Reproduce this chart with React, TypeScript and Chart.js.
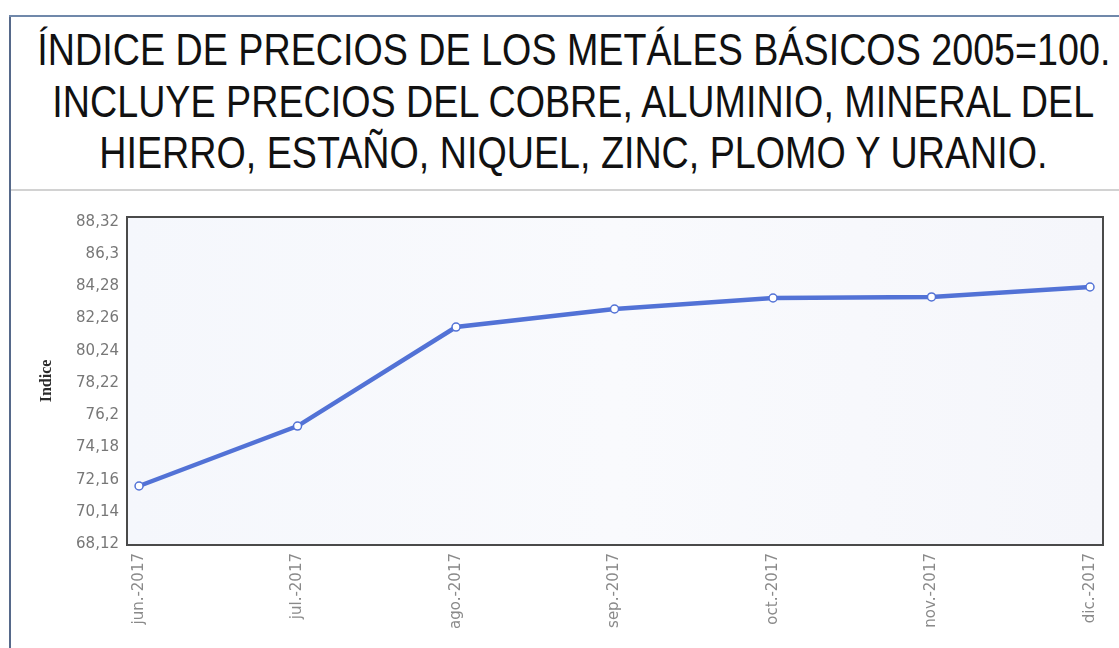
import React, { useEffect, useLayoutEffect, useRef } from 'react';
import { Chart, registerables } from 'chart.js';

Chart.register(...registerables);

const titleLines = [
  'ÍNDICE DE PRECIOS DE LOS METÁLES BÁSICOS 2005=100.',
  'INCLUYE PRECIOS DEL COBRE, ALUMINIO, MINERAL DEL',
  'HIERRO, ESTAÑO, NIQUEL, ZINC, PLOMO Y URANIO.',
];
const categories = ['jun.-2017', 'jul.-2017', 'ago.-2017', 'sep.-2017', 'oct.-2017', 'nov.-2017', 'dic.-2017'];
const indexValues = [71.76, 75.52, 81.73, 82.86, 83.55, 83.62, 84.24];
const yTickValues = [68.12, 70.14, 72.16, 74.18, 76.2, 78.22, 80.24, 82.26, 84.28, 86.3, 88.32];
const yAxisTitle = 'Indice';

const LINE_COLOR = '#5272d6';

const framePlugin = {
  id: 'frame',
  beforeDatasetsDraw(chart: any) {
    const { ctx, chartArea: a } = chart;
    ctx.save();
    const g = ctx.createLinearGradient(a.left, 0, a.right, 0);
    g.addColorStop(0, '#f5f7fc');
    g.addColorStop(0.5, '#f9fafd');
    g.addColorStop(1, '#f5f6fb');
    ctx.fillStyle = g;
    ctx.fillRect(a.left, a.top, a.right - a.left, a.bottom - a.top);
    ctx.strokeStyle = '#4a4a4a';
    ctx.lineWidth = 2;
    ctx.strokeRect(a.left, a.top, a.right - a.left, a.bottom - a.top);
    ctx.restore();
  },
};

export default function App() {
  const canvasRef = useRef<HTMLCanvasElement | null>(null);
  const titleRef = useRef<HTMLDivElement | null>(null);

  useLayoutEffect(() => {
    const box = titleRef.current;
    if (!box) return;
    const spans = Array.from(box.querySelectorAll('span')) as HTMLSpanElement[];
    if (!spans.length) return;
    const w = spans[0].getBoundingClientRect().width;
    const s = w > 0 ? 1073 / w : 1;
    spans.forEach((sp) => {
      sp.style.transform = `scaleX(${s})`;
    });
  }, []);

  useEffect(() => {
    const canvas = canvasRef.current;
    if (!canvas) return;
    const chart = new Chart(canvas, {
      type: 'line',
      data: {
        datasets: [
          {
            label: yAxisTitle,
            data: indexValues.map((v, i) => ({ x: i, y: v })),
            borderColor: LINE_COLOR,
            borderWidth: 4.5,
            backgroundColor: LINE_COLOR,
            pointRadius: 4,
            pointBackgroundColor: '#ffffff',
            pointBorderColor: LINE_COLOR,
            pointBorderWidth: 1.5,
            tension: 0,
            fill: false,
          },
        ],
      },
      options: {
        animation: false,
        responsive: false,
        maintainAspectRatio: false,
        layout: { padding: { top: 25, right: 16, left: 0, bottom: 0 } },
        plugins: {
          legend: { display: false },
          tooltip: { enabled: false },
          title: { display: false },
        },
        scales: {
          x: {
            type: 'linear',
            min: -0.076,
            max: 6.082,
            grid: { display: false, drawTicks: false },
            border: { display: false },
            afterBuildTicks: (axis: any) => {
              axis.ticks = categories.map((_, i) => ({ value: i }));
            },
            afterFit: (axis: any) => {
              axis.height = 103;
            },
            ticks: {
              autoSkip: false,
              minRotation: 90,
              maxRotation: 90,
              padding: 8,
              color: '#8a8a8a',
              font: { family: '"DejaVu Sans", Verdana, sans-serif', size: 15 },
              callback: (v: any) => (Number.isInteger(v) ? categories[v] ?? '' : ''),
            },
          },
          y: {
            type: 'linear',
            min: 68.06,
            max: 88.63,
            grid: { display: false, drawTicks: false },
            border: { display: false },
            afterBuildTicks: (axis: any) => {
              axis.ticks = yTickValues.map((v) => ({ value: v }));
            },
            afterFit: (axis: any) => {
              axis.width = 117;
            },
            ticks: {
              padding: 8,
              color: '#777777',
              font: { family: '"DejaVu Sans", Verdana, sans-serif', size: 15 },
              callback: (v: any) => String(v).replace('.', ','),
            },
            title: {
              display: true,
              text: yAxisTitle,
              color: '#2a2a2a',
              padding: { top: 27, bottom: 0 },
              font: { family: '"Liberation Serif", serif', size: 16, weight: 'bold' },
            },
          },
        },
      },
      plugins: [framePlugin],
    } as any);
    return () => chart.destroy();
  }, []);

  return (
    <div
      style={{
        position: 'fixed',
        left: 0,
        top: 0,
        width: 1119,
        height: 648,
        background: '#ffffff',
        overflow: 'hidden',
      }}
    >
      <div style={{ position: 'absolute', left: 9, top: 15, width: 2, height: 633, background: '#56698a' }} />
      <div style={{ position: 'absolute', left: 9, top: 15, width: 1110, height: 2, background: '#7088aa' }} />
      <div style={{ position: 'absolute', left: 11, top: 189, width: 1108, height: 2, background: '#d2d2d2' }} />
      <div ref={titleRef}>
        {titleLines.map((t, i) => (
          <div
            key={i}
            style={{
              position: 'absolute',
              left: 0,
              top: 27 + i * 51.5,
              width: 1147,
              display: 'flex',
              justifyContent: 'center',
              fontFamily: '"Liberation Sans", Arial, sans-serif',
              fontSize: 45,
              lineHeight: '45px',
              color: '#111111',
              whiteSpace: 'nowrap',
            }}
          >
            <span style={{ display: 'inline-block', flex: 'none', transformOrigin: 'center' }}>{t}</span>
          </div>
        ))}
      </div>
      <canvas
        ref={canvasRef}
        width={1109}
        height={456}
        style={{ position: 'absolute', left: 10, top: 192, width: 1109, height: 456 }}
      />
    </div>
  );
}
